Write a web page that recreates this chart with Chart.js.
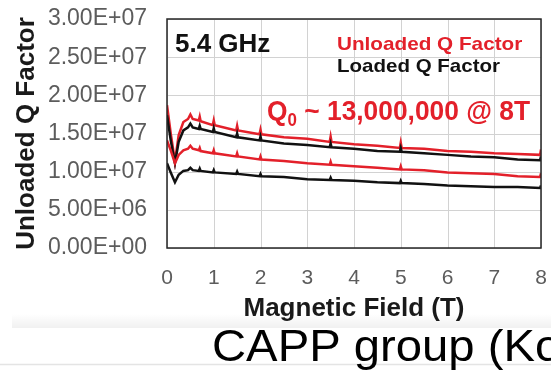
<!DOCTYPE html>
<html>
<head>
<meta charset="utf-8">
<script src="https://cdn.jsdelivr.net/npm/chart.js@4.4.1/dist/chart.umd.min.js"></script>
<style>
  html, body { margin: 0; padding: 0; background: #fff; }
  canvas { display: block; }
</style>
</head>
<body>
<canvas id="q" width="551" height="373"></canvas>
<script>
// magnetic field sweep (T); the short triplets mark the little spikes
const FIELD = [0, 0.08, 0.17, 0.25, 0.35, 0.45, 0.5, 0.55, 0.68, 0.7, 0.72, 0.98, 1.0, 1.02,
  1.48, 1.5, 1.52, 1.98, 2.0, 2.02, 2.5, 3.0, 3.48, 3.5, 3.52, 4.0, 4.5, 4.98, 5.0, 5.02,
  5.5, 6.0, 6.5, 7.0, 7.5, 7.98, 8.0];

// Q values, in millions
const unloadedHigh = [18.7, 15.0, 11.3, 14.8, 16.5, 16.9, 17.5, 16.9, 16.7, 17.2, 16.6, 16.1, 16.7, 16.1,
  15.4, 16.0, 15.4, 14.9, 15.5, 14.9, 14.5, 14.3, 13.9, 14.6, 13.9, 13.6, 13.4, 13.1, 13.8, 13.1,
  13.0, 12.7, 12.6, 12.4, 12.3, 12.2, 12.9];
const loadedHigh = [17.4, 14.1, 11.1, 13.9, 15.4, 15.8, 16.3, 15.8, 15.6, 16.0, 15.6, 15.2, 15.7, 15.2,
  14.5, 15.0, 14.5, 14.1, 14.6, 14.1, 13.7, 13.5, 13.2, 13.7, 13.2, 13.0, 12.7, 12.6, 13.1, 12.6,
  12.4, 12.2, 12.0, 11.9, 11.6, 11.5, 12.0];
const unloadedLow = [14.1, 12.8, 11.1, 12.2, 12.8, 13.0, 13.4, 13.0, 12.8, 13.1, 12.7, 12.4, 12.8, 12.4,
  12.0, 12.4, 12.0, 11.6, 12.0, 11.6, 11.4, 11.1, 10.9, 11.3, 10.9, 10.7, 10.5, 10.3, 10.7, 10.3,
  10.2, 9.9, 9.8, 9.7, 9.4, 9.3, 9.8];
const loadedLow = [11.1, 9.9, 8.6, 9.6, 10.1, 10.2, 10.5, 10.2, 10.1, 10.4, 10.1, 9.9, 10.2, 9.9,
  9.7, 10.0, 9.7, 9.4, 9.7, 9.4, 9.3, 9.0, 8.9, 9.2, 8.9, 8.8, 8.6, 8.5, 8.8, 8.5,
  8.4, 8.2, 8.1, 8.0, 8.0, 7.85, 8.2];

const Y_TICK_STEP = 5e6;
const Y_MAX = 3e7;
const X_MAX = 8;

const RED = '#e3202a';
const BLACK = '#111';

function pts(vals) {
  return vals.map((v, i) => ({ x: FIELD[i], y: v * 1e6 }));
}

function sci(v) {
  if (v === 0) return '0.00E+00';
  const e = Math.floor(Math.log10(v) + 1e-9);
  const m = v / Math.pow(10, e);
  return m.toFixed(2) + 'E+' + String(e).padStart(2, '0');
}

// text squeezed/stretched horizontally by sx
function putText(ctx, text, x, y, font, color, sx) {
  ctx.save();
  ctx.font = font;
  ctx.fillStyle = color;
  ctx.textBaseline = 'alphabetic';
  ctx.textAlign = 'left';
  ctx.translate(x, y);
  ctx.scale(sx || 1, 1);
  ctx.fillText(text, 0, 0);
  ctx.restore();
}

const pagePlugin = {
  id: 'page',
  beforeDraw(chart) {
    const ctx = chart.ctx;
    ctx.save();
    ctx.fillStyle = '#fff';
    ctx.fillRect(0, 0, chart.width, chart.height);
    // faint shadow under the figure
    const g = ctx.createLinearGradient(0, 314, 0, 328);
    g.addColorStop(0, 'rgba(0,0,0,0)');
    g.addColorStop(1, 'rgba(0,0,0,0.06)');
    ctx.fillStyle = g;
    ctx.fillRect(12, 314, chart.width - 12, 14);
    ctx.strokeStyle = '#e4e4e4';
    ctx.lineWidth = 1.5;
    ctx.beginPath();
    ctx.moveTo(0, 364.5);
    ctx.lineTo(chart.width, 364.5);
    ctx.stroke();
    ctx.restore();
  },
  beforeDatasetsDraw(chart) {
    // light grid
    const ctx = chart.ctx;
    const a = chart.chartArea;
    const xs = chart.scales.x, ys = chart.scales.y;
    ctx.save();
    ctx.strokeStyle = '#d2d2d2';
    ctx.lineWidth = 1;
    ctx.beginPath();
    xs.ticks.forEach(t => {
      const px = Math.round(xs.getPixelForValue(t.value)) + 0.5;
      ctx.moveTo(px, a.top); ctx.lineTo(px, a.bottom);
    });
    ys.ticks.forEach(t => {
      const py = Math.round(ys.getPixelForValue(t.value)) + 0.5;
      ctx.moveTo(a.left, py); ctx.lineTo(a.right, py);
    });
    ctx.stroke();
    ctx.restore();
  },
  afterDatasetsDraw(chart) {
    // dark frame round the plot
    const ctx = chart.ctx;
    const a = chart.chartArea;
    ctx.save();
    ctx.strokeStyle = '#262626';
    ctx.lineWidth = 1.5;
    ctx.strokeRect(a.left, a.top, a.right - a.left, a.bottom - a.top);
    ctx.restore();
  },
  afterDraw(chart) {
    const ctx = chart.ctx;
    putText(ctx, '5.4 GHz', 175, 52, 'bold 26px Arial', BLACK, 1.0);
    putText(ctx, 'Unloaded Q Factor', 337, 50, 'bold 19px Arial', RED, 1.09);
    putText(ctx, 'Loaded Q Factor', 337, 72, 'bold 19px Arial', BLACK, 1.08);

    // Q0 ~ 13,000,000 @ 8T with a subscript zero
    ctx.save();
    ctx.fillStyle = RED;
    ctx.textBaseline = 'alphabetic';
    ctx.font = 'bold 28px Arial';
    const wQ = ctx.measureText('Q').width;
    const rest = ' ~ 13,000,000 @ 8T';
    const wRest = ctx.measureText(rest).width;
    ctx.font = 'bold 18px Arial';
    const wSub = ctx.measureText('0').width;
    const sx = 263 / (wQ + wSub + wRest);
    ctx.translate(267, 120);
    ctx.scale(sx, 1);
    ctx.font = 'bold 28px Arial';
    ctx.fillText('Q', 0, 0);
    ctx.font = 'bold 18px Arial';
    ctx.fillText('0', wQ, 6);
    ctx.font = 'bold 28px Arial';
    ctx.fillText(rest, wQ + wSub, 0);
    ctx.restore();

    putText(ctx, 'CAPP group (Ko', 212, 361, '45px Arial', '#000', 1.05);
  }
};

new Chart(document.getElementById('q'), {
  type: 'line',
  data: {
    datasets: [
      { label: 'Loaded Q Factor', data: pts(loadedLow), borderColor: BLACK },
      { label: 'Unloaded Q Factor', data: pts(unloadedLow), borderColor: RED },
      { label: 'Loaded Q Factor', data: pts(loadedHigh), borderColor: BLACK },
      { label: 'Unloaded Q Factor', data: pts(unloadedHigh), borderColor: RED }
    ]
  },
  options: {
    responsive: false,
    devicePixelRatio: 1,
    animation: false,
    layout: { padding: { top: 19, right: 10, bottom: 51, left: 0 } },
    elements: {
      line: { borderWidth: 2.5, tension: 0, borderJoinStyle: 'miter' },
      point: { radius: 0 }
    },
    plugins: {
      legend: { display: false },
      tooltip: { enabled: false }
    },
    scales: {
      x: {
        type: 'linear',
        min: 0,
        max: X_MAX,
        afterFit(scale) {
          scale.height = 74;
          scale.paddingLeft = 0;
          scale.paddingRight = 0;
        },
        ticks: {
          stepSize: 1,
          padding: 10,
          color: '#5c5c5c',
          font: { family: 'Arial', size: 21 }
        },
        grid: { display: false },
        border: { display: false },
        title: {
          display: true,
          text: 'Magnetic Field (T)',
          color: '#1a1a1a',
          font: { family: 'Arial', size: 26, weight: 'bold', lineHeight: 1 },
          padding: { top: 0, bottom: 0 }
        }
      },
      y: {
        min: 0,
        max: Y_MAX,
        afterFit(scale) {
          scale.width = 167;
          scale.paddingTop = 0;
          scale.paddingBottom = 0;
        },
        ticks: {
          stepSize: Y_TICK_STEP,
          padding: 12,
          color: '#5c5c5c',
          font: { family: 'Arial', size: 23 },
          callback: v => sci(v)
        },
        grid: { display: false },
        border: { display: false },
        title: {
          display: true,
          text: 'Unloaded Q Factor',
          color: '#1a1a1a',
          font: { family: 'Arial', size: 26, weight: 'bold', lineHeight: 1 },
          padding: { top: 14, bottom: 0 }
        }
      }
    }
  },
  plugins: [pagePlugin]
});
</script>
</body>
</html>
